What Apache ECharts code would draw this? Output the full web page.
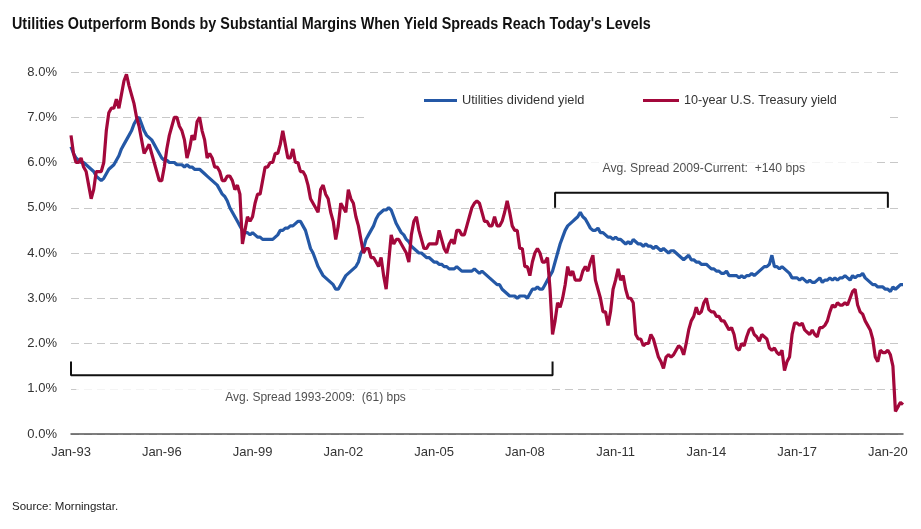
<!DOCTYPE html>
<html>
<head>
<meta charset="utf-8">
<script src="https://cdn.jsdelivr.net/npm/echarts@6/dist/echarts.min.js"></script>
<style>html,body{margin:0;padding:0;background:#fff}#c{width:921px;height:529px}</style>
</head>
<body>
<div id="c"></div>
<script>
// Monthly values, Jan-1993 .. Jul-2020
const utilitiesYield = [
  6.35,6.2,6.1,6.05,6.0,6.0,5.95,5.9,5.85,5.8,5.7,5.65,        // 1993
  5.6,5.65,5.75,5.85,5.9,5.95,6.05,6.15,6.3,6.4,6.5,6.6,       // 1994
  6.7,6.85,6.95,7.0,6.85,6.7,6.6,6.55,6.5,6.4,6.3,6.2,         // 1995
  6.1,6.05,6.05,6.0,6.0,6.0,5.95,5.95,5.95,5.9,5.95,5.9,       // 1996
  5.9,5.85,5.85,5.85,5.8,5.75,5.7,5.65,5.6,5.55,5.5,5.4,       // 1997
  5.3,5.25,5.15,5.0,4.9,4.8,4.7,4.6,4.5,4.45,4.45,4.4,         // 1998
  4.45,4.4,4.35,4.35,4.3,4.3,4.3,4.3,4.3,4.35,4.4,4.5,         // 1999
  4.5,4.55,4.55,4.6,4.6,4.65,4.7,4.7,4.6,4.5,4.3,4.1,          // 2000
  4.0,3.85,3.7,3.6,3.5,3.45,3.4,3.35,3.3,3.2,3.2,3.3,          // 2001
  3.4,3.5,3.55,3.6,3.65,3.7,3.8,4.0,4.1,4.3,4.4,4.5,           // 2002
  4.6,4.75,4.85,4.9,4.95,4.95,5.0,4.95,4.8,4.65,4.55,4.45,     // 2003
  4.4,4.3,4.25,4.15,4.1,4.05,4.0,4.0,3.95,3.9,3.9,3.85,        // 2004
  3.8,3.8,3.75,3.75,3.7,3.7,3.65,3.65,3.65,3.7,3.65,3.6,       // 2005
  3.6,3.6,3.6,3.6,3.65,3.6,3.55,3.6,3.55,3.5,3.45,3.4,         // 2006
  3.35,3.3,3.3,3.2,3.15,3.1,3.05,3.05,3.05,3.0,3.05,3.05,      // 2007
  3.05,3.0,3.1,3.2,3.2,3.25,3.2,3.2,3.3,3.4,3.5,3.6,           // 2008
  3.8,4.0,4.2,4.35,4.5,4.6,4.65,4.7,4.75,4.8,4.9,4.8,          // 2009
  4.75,4.65,4.55,4.5,4.5,4.55,4.45,4.45,4.4,4.35,4.35,4.3,     // 2010
  4.35,4.3,4.3,4.25,4.2,4.25,4.2,4.3,4.25,4.2,4.2,4.15,        // 2011
  4.2,4.15,4.15,4.1,4.15,4.1,4.05,4.1,4.05,4.0,4.05,4.05,      // 2012
  4.0,3.95,3.9,3.85,3.9,3.95,3.85,3.85,3.8,3.8,3.75,3.75,      // 2013
  3.75,3.7,3.65,3.65,3.6,3.6,3.55,3.55,3.6,3.5,3.5,3.5,        // 2014
  3.5,3.45,3.5,3.45,3.5,3.5,3.55,3.5,3.55,3.6,3.65,3.7,        // 2015
  3.7,3.75,3.95,3.7,3.7,3.65,3.7,3.65,3.6,3.55,3.45,3.45,      // 2016
  3.45,3.4,3.45,3.4,3.35,3.4,3.35,3.35,3.4,3.45,3.35,3.4,      // 2017
  3.4,3.45,3.4,3.45,3.4,3.45,3.45,3.5,3.45,3.4,3.5,3.45,       // 2018
  3.5,3.5,3.55,3.45,3.4,3.35,3.3,3.3,3.25,3.25,3.25,3.2,       // 2019
  3.2,3.15,3.25,3.2,3.25,3.3,3.3                               // 2020
];
const treasuryYield = [
  6.6,6.2,6.0,6.0,6.1,5.9,5.8,5.5,5.2,5.4,5.8,5.8,             // 1993
  5.8,6.0,6.7,7.1,7.2,7.2,7.4,7.2,7.5,7.8,7.95,7.7,            // 1994
  7.5,7.3,7.0,6.8,6.5,6.2,6.3,6.4,6.2,6.0,5.8,5.6,             // 1995
  5.6,5.9,6.3,6.6,6.8,7.0,7.0,6.8,6.7,6.5,6.1,6.3,             // 1996
  6.6,6.5,6.9,7.0,6.7,6.5,6.1,6.2,6.1,5.9,5.9,5.8,             // 1997
  5.6,5.6,5.7,5.7,5.6,5.4,5.5,5.3,4.2,4.5,4.8,4.7,             // 1998
  4.8,5.1,5.3,5.3,5.6,5.9,5.9,6.0,6.0,6.2,6.2,6.4,             // 1999
  6.7,6.4,6.1,6.1,6.3,6.0,6.0,5.8,5.8,5.7,5.5,5.2,             // 2000
  5.1,5.0,4.9,5.4,5.5,5.3,5.2,4.9,4.7,4.3,4.6,5.1,             // 2001
  5.0,4.9,5.4,5.2,5.1,4.8,4.6,4.3,4.0,4.1,4.1,3.9,             // 2002
  3.9,3.8,3.7,3.9,3.5,3.2,3.8,4.4,4.2,4.3,4.3,4.2,             // 2003
  4.1,4.0,3.8,4.4,4.7,4.8,4.5,4.3,4.1,4.1,4.2,4.2,             // 2004
  4.2,4.2,4.5,4.3,4.1,4.0,4.2,4.3,4.2,4.5,4.5,4.4,             // 2005
  4.4,4.6,4.8,5.0,5.1,5.15,5.1,4.9,4.7,4.7,4.6,4.6,            // 2006
  4.8,4.6,4.6,4.7,4.9,5.15,4.9,4.6,4.5,4.5,4.1,4.1,            // 2007
  3.7,3.7,3.5,3.8,4.0,4.1,4.0,3.8,3.8,3.9,3.2,2.2,             // 2008
  2.5,2.9,2.8,3.0,3.3,3.7,3.5,3.6,3.4,3.4,3.4,3.6,             // 2009
  3.7,3.6,3.8,3.95,3.4,3.2,3.0,2.7,2.7,2.4,2.7,3.2,            // 2010
  3.4,3.65,3.4,3.5,3.2,3.0,3.0,2.9,2.2,2.1,2.1,1.95,           // 2011
  2.0,2.0,2.2,2.1,1.9,1.7,1.6,1.45,1.7,1.75,1.7,1.75,          // 2012
  1.85,1.95,1.9,1.75,2.0,2.3,2.5,2.6,2.8,2.65,2.7,2.9,         // 2013
  3.0,2.75,2.7,2.7,2.6,2.6,2.5,2.5,2.4,2.3,2.35,2.2,           // 2014
  1.9,1.85,2.0,1.95,2.15,2.3,2.35,2.2,2.15,2.05,2.2,2.15,      // 2015
  2.1,1.9,1.85,1.9,1.8,1.75,1.85,1.4,1.6,1.7,2.2,2.45,         // 2016
  2.45,2.4,2.45,2.3,2.25,2.2,2.3,2.2,2.15,2.35,2.35,2.4,       // 2017
  2.5,2.7,2.85,2.8,2.9,2.85,2.85,2.9,2.85,3.0,3.15,3.2,        // 2018
  2.85,2.7,2.65,2.5,2.4,2.3,2.1,1.7,1.6,1.85,1.8,1.8,          // 2019
  1.85,1.75,1.5,0.5,0.6,0.7,0.65                               // 2020
];
const monthNames = ['Jan','Feb','Mar','Apr','May','Jun','Jul','Aug','Sep','Oct','Nov','Dec'];
const startYear = 1993;
const months = utilitiesYield.map((_, i) =>
  monthNames[i % 12] + '-' + String((startYear + Math.floor(i / 12)) % 100).padStart(2, '0'));

const yTicks = { min: 0, max: 8, interval: 1 };
const seriesNames = ['Utilities dividend yield', '10-year U.S. Treasury yield'];
const titleText = "Utilities Outperform Bonds by Substantial Margins When Yield Spreads Reach Today's Levels";
const sourceText = 'Source: Morningstar.';
// Spread brackets (category, value)
const bracketEarly = [['Jan-93', 1.6], ['Jan-93', 1.3], ['Dec-08', 1.3], ['Dec-08', 1.6]];
const bracketLate = [['Jan-09', 5.0], ['Jan-09', 5.33], ['Jan-20', 5.33], ['Jan-20', 5.0]];
const noteEarly = { at: ['Feb-01', 0.8], text: 'Avg. Spread 1993-2009:  (61) bps' };
const noteLate = { at: ['Dec-13', 5.86], text: 'Avg. Spread 2009-Current:  +140 bps' };

const FONT = "'Liberation Sans Narrow', 'Arial Narrow', 'Liberation Sans', Arial, sans-serif";
const BLUE = '#2458a6';
const RED = '#a3083b';

const chart = echarts.init(document.getElementById('c'), null, { renderer: 'canvas' });
chart.setOption({
  animation: false,
  backgroundColor: '#fff',
  title: [
    { text: sourceText, left: 12, top: 501, padding: 0,
      textStyle: { fontFamily: FONT, fontWeight: 'normal', fontSize: 11.5, color: '#222' } }
  ],
  graphic: [
    { type: 'text', x: 12, y: 16, scaleX: 0.845, scaleY: 1, silent: true,
      style: { text: titleText, fill: '#111', font: "bold 17px 'Liberation Sans Narrow', 'Liberation Sans', Arial, sans-serif" } }
  ],
  legend: [
    { data: [seriesNames[0]], left: 364, top: 88, padding: [6, 303, 14, 60],
      backgroundColor: '#fff', icon: 'rect', itemWidth: 33, itemHeight: 3, z: 4,
      textStyle: { fontFamily: FONT, fontSize: 12.8, color: '#333' } },
    { data: [seriesNames[1]], left: 643, top: 94, padding: 0,
      icon: 'rect', itemWidth: 36, itemHeight: 3, z: 5,
      textStyle: { fontFamily: FONT, fontSize: 12.6, color: '#333' } }
  ],
  grid: { left: 71, right: 18, top: 72, bottom: 95, containLabel: false },
  xAxis: {
    type: 'category', data: months, boundaryGap: false,
    axisLine: { lineStyle: { color: '#555', width: 1.5 } },
    axisTick: { show: false },
    axisLabel: { interval: (idx) => idx % 36 === 0, margin: 12, fontFamily: FONT, fontSize: 13, color: '#333' },
    splitLine: { show: false }
  },
  yAxis: {
    type: 'value', min: yTicks.min, max: yTicks.max, interval: yTicks.interval,
    axisLine: { show: false }, axisTick: { show: false },
    axisLabel: { formatter: v => v.toFixed(1) + '%', margin: 14, fontFamily: FONT, fontSize: 13, color: '#333' },
    splitLine: { lineStyle: { color: '#c8c8c8', type: [8, 5], width: 1.2 } }
  },
  series: [
    { name: seriesNames[0], type: 'line', data: utilitiesYield, showSymbol: false, symbol: 'none',
      lineStyle: { color: BLUE, width: 3.2 }, itemStyle: { color: BLUE }, z: 3 },
    { name: seriesNames[1], type: 'line', data: treasuryYield, showSymbol: false, symbol: 'none',
      lineStyle: { color: RED, width: 3.2 }, itemStyle: { color: RED }, z: 3 },
    { type: 'line', data: bracketEarly, symbol: 'none', silent: true,
      lineStyle: { color: '#111', width: 2 }, z: 5 },
    { type: 'line', data: bracketLate, symbol: 'none', silent: true,
      lineStyle: { color: '#111', width: 2 }, z: 5 },
    { type: 'scatter', data: [noteEarly.at], symbolSize: 1, silent: true,
      itemStyle: { color: 'rgba(0,0,0,0)' }, z: 6,
      label: { show: true, position: 'inside', offset: [-1.5, 0], formatter: noteEarly.text, fontFamily: FONT, fontSize: 12,
        color: '#222', backgroundColor: '#fff', padding: [4, 146, 3, 149] } },
    { type: 'scatter', data: [noteLate.at], symbolSize: 1, silent: true,
      itemStyle: { color: 'rgba(0,0,0,0)' }, z: 6,
      label: { show: true, position: 'inside', offset: [26.5, 0], formatter: noteLate.text, fontFamily: FONT, fontSize: 12.2,
        color: '#222', backgroundColor: '#fff', padding: [4, 68, 3, 15] } }
  ]
});
</script>
</body>
</html>
